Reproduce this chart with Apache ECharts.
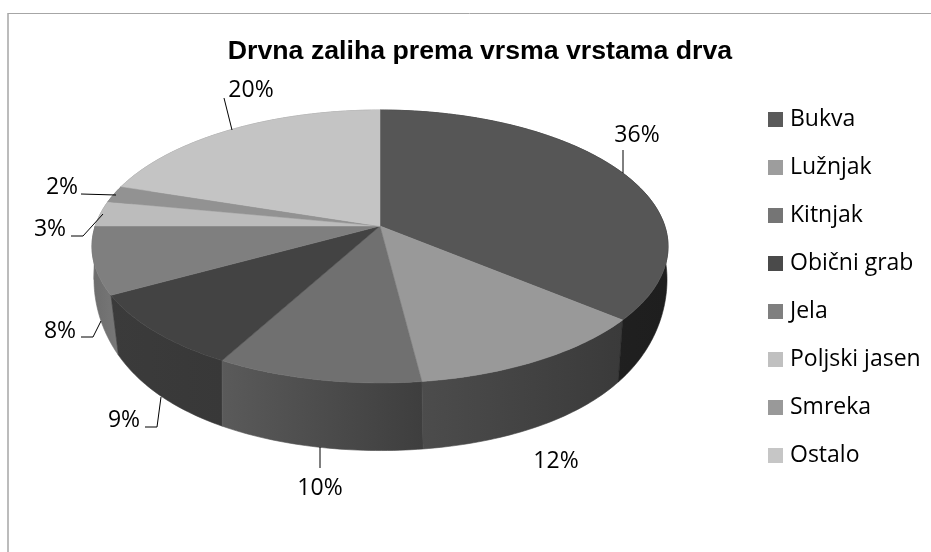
<!DOCTYPE html>
<html>
<head>
<meta charset="utf-8">
<style>
  html, body { margin: 0; padding: 0; background: #fff; }
  #main { width: 931px; height: 552px; }
</style>
</head>
<body>
<div id="main"></div>
<script src="https://cdn.jsdelivr.net/npm/echarts@6/dist/echarts.min.js"></script>
<script>
var categories = ['Bukva', 'Lužnjak', 'Kitnjak', 'Obični grab', 'Jela', 'Poljski jasen', 'Smreka', 'Ostalo'];
var shares = [36, 12, 10, 9, 8, 3, 2, 20];
var topColors = ['#565656', '#999999', '#707070', '#434343', '#7f7f7f', '#bcbcbc', '#929292', '#c4c4c4'];
var legendColors = ['#5a5a5a', '#9d9d9d', '#757575', '#4a4a4a', '#7f7f7f', '#c0c0c0', '#999999', '#c6c6c6'];
var wallColors = [
  ['#262626', '#1e1e1e'], ['#4c4c4c', '#3a3a3a'], ['#5a5a5a', '#3e3e3e'], ['#3b3b3b', '#383838'],
  ['#6c6c6c', '#787878'], ['#8a8a8a', '#8a8a8a'], ['#6e6e6e', '#6e6e6e'], ['#8f8f8f', '#8f8f8f']
];

// label centre and leader polyline for each slice, in page pixels
var labelPos = [[637, 135], [556, 461], [320, 488], [124, 420], [60, 331], [50, 229], [62, 187], [251, 90]];
var leaders = [
  [[623, 150], [623, 173]],
  null,
  [[320, 468], [320, 447]],
  [[145, 427], [157, 427], [161, 397]],
  [[81, 337], [93, 337], [101, 321]],
  [[71, 236], [83, 236], [103, 214]],
  [[81, 194], [116, 195]],
  [[224, 98], [232, 130]]
];

// perspective of the disc: rim of the top face and rim of the bottom face
var topRim = { cx: 380, cy: 226, a: 133.4, b: 284.8, k: -0.15 };
var bottomRim = { cx: 380.5, cy: 279.6, a: 145.3, b: 286.5, k: -0.15, bulge: 0.19 };
var textFont = '"Open Sans", sans-serif';

function project(rim, deg, r) {
  var t = deg * Math.PI / 180;
  var u = Math.sin(t) * r;
  var v = -Math.cos(t) * r;
  var w = 1 + rim.k * v;
  var sx = rim.bulge ? 1 + rim.bulge * v * v : 1 / w;
  return [rim.cx + rim.b * u * sx, rim.cy + rim.a * v / w];
}

function arcPoints(rim, from, to) {
  var pts = [];
  var n = Math.max(2, Math.ceil(to - from));
  for (var i = 0; i <= n; i++) {
    pts.push(project(rim, from + (to - from) * i / n, 1));
  }
  return pts;
}

function startDeg(index) {
  var sum = 0;
  for (var i = 0; i < index; i++) sum += shares[i];
  return sum * 3.6;
}

function renderSlice(params, api) {
  var i = params.seriesIndex;
  var from = startDeg(i);
  var to = from + api.value(0) * 3.6;
  var top = arcPoints(topRim, from, to);
  var bottom = arcPoints(bottomRim, from, to).reverse();
  var wallFill = {
    type: 'linear', x: 0, y: 0, x2: 1, y2: 0,
    colorStops: [
      { offset: 0, color: wallColors[i][0] },
      { offset: 1, color: wallColors[i][1] }
    ]
  };
  var children = [
    {
      type: 'polygon',
      z2: 1 + (i < 5 ? 5 - i : 0),
      shape: { points: top.concat(bottom) },
      style: { fill: wallFill, stroke: wallFill, lineWidth: 0.6 }
    },
    {
      type: 'polygon',
      z2: 10,
      shape: { points: [[topRim.cx, topRim.cy]].concat(top) },
      style: { fill: topColors[i], stroke: topColors[i], lineWidth: 0.5 }
    },
    {
      type: 'text',
      z2: 20,
      style: {
        x: labelPos[i][0],
        y: labelPos[i][1],
        text: api.value(0) + '%',
        fill: '#000',
        font: '23px ' + textFont,
        align: 'center',
        verticalAlign: 'middle'
      }
    }
  ];
  if (leaders[i]) {
    children.push({
      type: 'polyline',
      z2: 20,
      shape: { points: leaders[i] },
      style: { stroke: '#000', lineWidth: 1, fill: 'none' }
    });
  }
  return { type: 'group', children: children };
}

var seriesList = categories.map(function (name, i) {
  return {
    name: name,
    type: 'custom',
    coordinateSystem: 'none',
    renderItem: renderSlice,
    data: [[shares[i]]],
    itemStyle: { color: legendColors[i] },
    silent: true
  };
});

var myChart = echarts.init(document.getElementById('main'));
myChart.setOption({
  animation: false,
  backgroundColor: '#fff',
  title: {
    text: 'Drvna zaliha prema vrsma vrstama drva',
    left: 475,
    top: 33,
    textAlign: 'center',
    textStyle: { fontFamily: '"Liberation Sans", Arial, sans-serif', fontSize: 26.7, fontWeight: 'bold', color: '#000' }
  },
  legend: {
    orient: 'vertical',
    left: 768,
    top: 108,
    padding: 0,
    itemWidth: 15,
    itemHeight: 15,
    itemGap: 25,
    icon: 'rect',
    selectedMode: false,
    data: categories,
    textStyle: { fontFamily: textFont, fontSize: 23, color: '#000', lineHeight: 19, padding: [0, 0, 0, 2] }
  },
  graphic: [
    { type: 'line', shape: { x1: 8, y1: 13.5, x2: 931, y2: 13.5 }, style: { stroke: '#a6a6a6', lineWidth: 1 } },
    { type: 'line', shape: { x1: 8, y1: 13, x2: 8, y2: 552 }, style: { stroke: '#a6a6a6', lineWidth: 1.5 } }
  ],
  series: seriesList
});
</script>
</body>
</html>
